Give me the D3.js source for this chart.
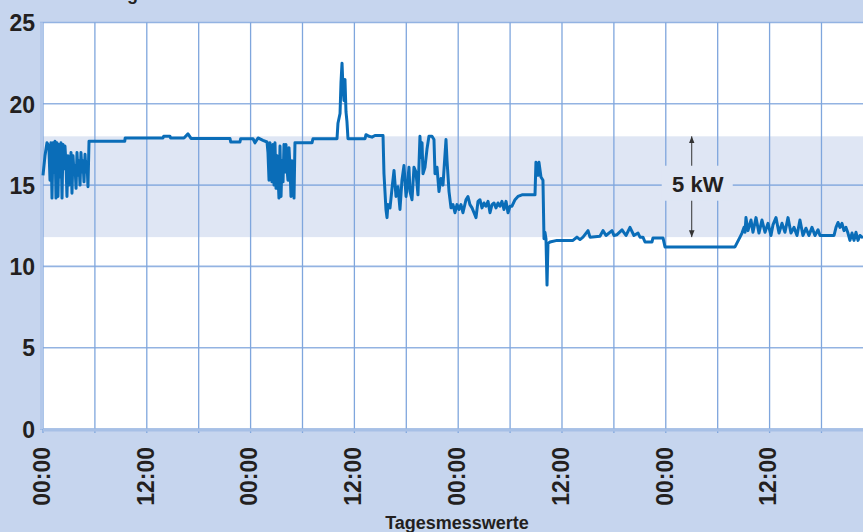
<!DOCTYPE html>
<html>
<head>
<meta charset="utf-8">
<script src="https://cdn.jsdelivr.net/npm/d3@7"></script>
<style>
body { margin: 0; background: #c6d5ee; }
svg text { font-family: "Liberation Sans", Arial, sans-serif; font-weight: bold; fill: #231f20; }
</style>
</head>
<body>
<div id="box-div"></div>
<script>
const timeH = [
    0, 0.23, 0.46, 0.58, 0.69, 0.81, 0.92, 1.04, 1.16, 1.27, 1.39, 1.50, 1.62, 1.73, 1.85, 1.97,
    2.08, 2.20, 2.31, 2.43, 2.54, 2.66, 2.77, 2.89, 3.01, 3.12, 3.24, 3.35, 3.47, 3.58, 3.70, 3.82,
    3.93, 4.05, 4.16, 4.28, 4.39, 4.51, 4.62, 4.74, 4.86, 4.97, 5.09, 5.20, 5.32,
    9.45, 9.50, 13.87, 13.95, 14.68, 14.75, 16.30, 16.76, 17.11, 21.62, 21.70, 22.77, 22.85,
    24.28, 24.51, 24.86, 25.43, 25.90,
    26.01, 26.13, 26.24, 26.36, 26.47, 26.59, 26.71, 26.82, 26.94, 27.05, 27.17, 27.28, 27.40,
    27.52, 27.63, 27.75, 27.86, 27.98, 28.09, 28.21, 28.32, 28.44, 28.55, 28.67, 28.79, 28.90,
    29.02, 29.13,
    31.10, 31.21, 33.99, 34.10, 34.34, 34.45, 34.57, 34.68, 34.80, 34.91, 35.03, 35.14, 35.26,
    37.23, 37.34, 37.69, 38.03, 38.38, 39.31,
    39.42, 39.65, 39.77, 39.88, 40.12, 40.35, 40.58, 40.81, 41.04, 41.27, 41.50, 41.73, 41.97,
    42.20, 42.31, 42.43, 42.66, 42.89, 43.12, 43.35, 43.58, 43.70, 43.82, 43.93, 44.16, 44.39,
    44.62, 44.97, 45.20, 45.32, 45.55, 45.78, 46.01, 46.24, 46.59, 46.71, 46.94, 47.17, 47.40,
    47.63, 47.86, 48.09, 48.32, 48.55, 48.90, 49.13, 49.36, 49.60, 49.83, 50.06, 50.29, 50.52,
    50.75, 50.98, 51.21, 51.45, 51.68, 51.91, 52.14, 52.37, 52.60, 52.83, 53.06, 53.29, 53.53,
    53.76, 53.99, 54.22, 54.57, 54.91, 55.38, 56.88,
    56.99, 57.23, 57.34, 57.57, 57.80, 57.92, 58.03, 58.15, 58.27, 58.38, 58.61, 59.42, 61.27,
    61.73, 62.08, 62.43, 63.01, 63.24, 64.39, 64.74, 65.09, 65.78, 66.01, 66.36, 66.94, 67.40,
    67.86, 68.32, 68.79, 69.02, 69.36, 69.60, 70.40, 70.52, 71.68, 71.91, 80.00,
    80.58, 80.81, 81.04, 81.16, 81.27, 81.50, 81.85, 82.08, 82.43, 82.77, 83.12, 83.47, 83.82,
    84.16, 84.39, 84.74, 85.09, 85.43, 85.78, 86.13, 86.47, 86.82, 87.17, 87.51, 87.86, 88.21,
    88.55, 88.90, 89.25, 89.60, 89.83, 91.45, 91.68, 91.91, 92.14, 92.37, 92.60, 92.83, 93.06,
    93.29, 93.53, 93.76, 93.99, 94.22, 94.45, 94.80
];
const powerKW = [
    15.6, 16.8, 17.6, 17.5, 17.2, 15.3, 17.6, 14.2, 17.6, 15.8, 17.7, 14.2, 17.6, 14.3, 17.5, 15.5,
    17.6, 14.2, 17.5, 16.0, 17.4, 16.3, 14.3, 16.8, 15.0, 15.8, 17.0, 14.5, 16.8, 15.8, 16.2, 14.8,
    17.0, 15.6, 16.5, 15.0, 17.0, 15.8, 16.5, 15.2, 16.9, 15.8, 16.4, 14.9, 17.7,
    17.7, 17.9, 17.9, 18.0, 18.0, 17.9, 17.9, 18.15, 17.87, 17.87, 17.65, 17.65, 17.85,
    17.85, 17.6, 17.9, 17.75, 17.65,
    17.0, 15.3, 17.6, 16.0, 15.2, 17.5, 15.0, 17.6, 14.8, 16.8, 15.6, 14.2, 17.4,
    14.3, 16.5, 15.2, 17.5, 15.8, 17.5, 16.0, 15.3, 17.3, 16.2, 14.3, 16.5, 15.5,
    14.2, 17.6,
    17.6, 17.85, 17.85, 18.8, 19.4, 21.3, 22.5, 21.0, 20.2, 21.5, 19.5, 18.9, 17.85,
    17.85, 18.1, 18.0, 17.95, 18.05, 18.05,
    15.7, 13.5, 13.0, 13.8, 13.6, 14.8, 15.9, 14.3, 14.9, 13.5, 15.3, 16.2, 14.3,
    15.4, 16.1, 14.6, 14.1, 16.1, 15.8, 14.4, 18.0, 16.7, 17.6, 15.7, 16.1, 17.2,
    18.0, 18.0, 17.8, 15.7, 16.1, 14.6, 15.4, 15.0, 17.8, 16.5, 14.6, 13.6, 13.8,
    13.3, 13.8, 13.5, 13.8, 13.3, 14.1, 14.3, 13.8, 13.6, 13.3, 13.0, 14.0, 14.1,
    13.6, 13.9, 13.7, 14.0, 13.3, 13.8, 13.9, 13.6, 13.9, 13.7, 14.0, 13.5, 14.0,
    13.3, 13.7, 13.7, 14.1, 14.3, 14.4, 14.4,
    16.4, 15.6, 16.4, 15.5, 15.3, 11.7, 12.1, 11.7, 8.85, 11.4, 11.5, 11.6, 11.6,
    11.8, 11.65, 11.8, 12.2, 11.8, 11.85, 12.2, 11.9, 12.2, 11.9, 11.95, 12.25, 11.9,
    12.4, 11.9, 12.05, 11.8, 11.8, 11.5, 11.5, 11.75, 11.75, 11.2, 11.2,
    11.8, 12.05, 12.4, 12.1, 13.0, 12.2, 12.85, 12.1, 13.0, 12.05, 12.85, 12.1, 12.65,
    11.9, 12.55, 13.0, 12.05, 12.65, 12.1, 13.0, 12.05, 12.4, 11.9, 12.85, 11.9, 12.35,
    11.9, 12.4, 11.9, 12.25, 11.9, 11.9, 12.4, 12.7, 12.4, 12.65, 12.2, 12.4, 12.05,
    11.6, 12.05, 11.6, 12.1, 11.6, 11.9, 11.75
];
const yTicks = [0, 5, 10, 15, 20, 25];
const gridHours = d3.range(0, 91, 6); //every 6 hours
const labelHours = [0, 12, 24, 36, 48, 60, 72, 84];
const labelText = ['00:00', '12:00', '00:00', '12:00', '00:00', '12:00', '00:00', '12:00'];
const band = [11.8, 18]; //5 kW spread
const bandLabel = '5 kW';
const xTitle = 'Tagesmesswerte';
const yTitle = 'Leistung';

const dms = {
    width: 863,
    height: 532,
    margin: { top: 22.5, right: 0, bottom: 103, left: 43 }
};
dms.contentWidth = dms.width - dms.margin.left - dms.margin.right;
dms.contentHeight = dms.height - dms.margin.top - dms.margin.bottom;

const box = d3.select('#box-div').append('svg')
    .attr('width', dms.width)
    .attr('height', dms.height)
    .style('display', 'block');

box.append('rect')
    .attr('width', dms.width)
    .attr('height', dms.height)
    .attr('fill', '#c6d5ee'); //page background

const content = box.append('g')
    .attr('transform', `translate(${dms.margin.left},${dms.margin.top})`);

const x = d3.scaleLinear().domain([0, 94.8]).range([0, dms.contentWidth]);
const y = d3.scaleLinear().domain([0, 25]).range([dms.contentHeight, 0]);

content.append('rect')
    .attr('width', dms.contentWidth)
    .attr('height', dms.contentHeight)
    .attr('fill', '#ffffff');

content.append('rect')
    .attr('x', 0)
    .attr('y', y(band[1]))
    .attr('width', dms.contentWidth)
    .attr('height', y(band[0]) - y(band[1]))
    .attr('fill', '#dfe6f4'); //band

//grid
content.append('g').selectAll('line')
    .data(yTicks)
    .join('line')
    .attr('x1', -3).attr('x2', dms.contentWidth)
    .attr('y1', d => y(d)).attr('y2', d => y(d))
    .attr('stroke', '#93b3e2')
    .attr('stroke-width', 1.6);

content.append('g').selectAll('line')
    .data(gridHours)
    .join('line')
    .attr('x1', d => x(d)).attr('x2', d => x(d))
    .attr('y1', 0).attr('y2', dms.contentHeight + 4)
    .attr('stroke', '#7fa6dd')
    .attr('stroke-width', 1.3);

//axis lines
content.append('line')
    .attr('x1', -1.5).attr('x2', -1.5)
    .attr('y1', 0).attr('y2', dms.contentHeight)
    .attr('stroke', '#b3c8ea')
    .attr('stroke-width', 3);
content.append('line')
    .attr('x1', 0).attr('x2', dms.contentWidth)
    .attr('y1', dms.contentHeight + 1).attr('y2', dms.contentHeight + 1)
    .attr('stroke', '#a7c0e6')
    .attr('stroke-width', 3);

//y labels
const yAxis = content.append('g')
    .call(d3.axisLeft(y).tickValues(yTicks).tickSize(0).tickPadding(8));
yAxis.select('.domain').remove();
yAxis.selectAll('text')
    .attr('font-size', 23)
    .attr('font-family', null)
    .attr('fill', '#231f20')
    .attr('dy', '0.36em');

//x labels
const xAxis = content.append('g')
    .attr('transform', `translate(0,${dms.contentHeight})`)
    .call(d3.axisBottom(x).tickValues(labelHours)
        .tickFormat((d, i) => labelText[i]).tickSize(0));
xAxis.select('.domain').remove();
xAxis.selectAll('text')
    .attr('font-size', 23)
    .attr('font-family', null)
    .attr('fill', '#231f20')
    .attr('text-anchor', 'end')
    .attr('transform', 'translate(0,18) rotate(-90)')
    .attr('x', 0)
    .attr('y', 0)
    .attr('dy', '0.27em');

//the series
const lineGen = d3.line()
    .x((d, i) => x(timeH[i]))
    .y(d => y(d));

content.append('path')
    .datum(powerKW)
    .attr('d', lineGen)
    .attr('fill', 'none')
    .attr('stroke', '#0a6db8')
    .attr('stroke-width', 3)
    .attr('stroke-linejoin', 'round');

//5 kW annotation
const arrowX = x(75);
const defs = box.append('defs');
['start', 'end'].forEach(k => {
    defs.append('marker')
        .attr('id', 'arr-' + k)
        .attr('viewBox', '0 0 10 10')
        .attr('refX', 10).attr('refY', 5)
        .attr('markerWidth', 7).attr('markerHeight', 7)
        .attr('markerUnits', 'userSpaceOnUse')
        .attr('orient', 'auto-start-reverse')
        .append('path')
        .attr('d', 'M0,1 L10,5 L0,9 Z')
        .attr('fill', '#333');
});
content.append('line')
    .attr('x1', arrowX).attr('x2', arrowX)
    .attr('y1', y(band[1])).attr('y2', y(band[0]))
    .attr('stroke', '#333')
    .attr('stroke-width', 1)
    .attr('marker-start', 'url(#arr-start)')
    .attr('marker-end', 'url(#arr-end)');

const labelMid = (y(band[0]) + y(band[1])) / 2;
content.append('rect')
    .attr('x', arrowX - 30)
    .attr('y', labelMid - 21)
    .attr('width', 71)
    .attr('height', 35)
    .attr('fill', '#dfe6f4');
content.append('text')
    .attr('x', arrowX + 6)
    .attr('y', labelMid - 3)
    .attr('dy', '0.36em')
    .attr('text-anchor', 'middle')
    .attr('font-size', 22)
    .text(bandLabel);

//titles
box.append('text')
    .attr('x', 457)
    .attr('y', 529)
    .attr('text-anchor', 'middle')
    .attr('font-size', 18)
    .text(xTitle);

box.append('text')
    .attr('x', 138)
    .attr('y', -0.5)
    .attr('text-anchor', 'end')
    .attr('font-size', 18)
    .text(yTitle); //cut off at the top, only the descender shows
</script>
</body>
</html>
